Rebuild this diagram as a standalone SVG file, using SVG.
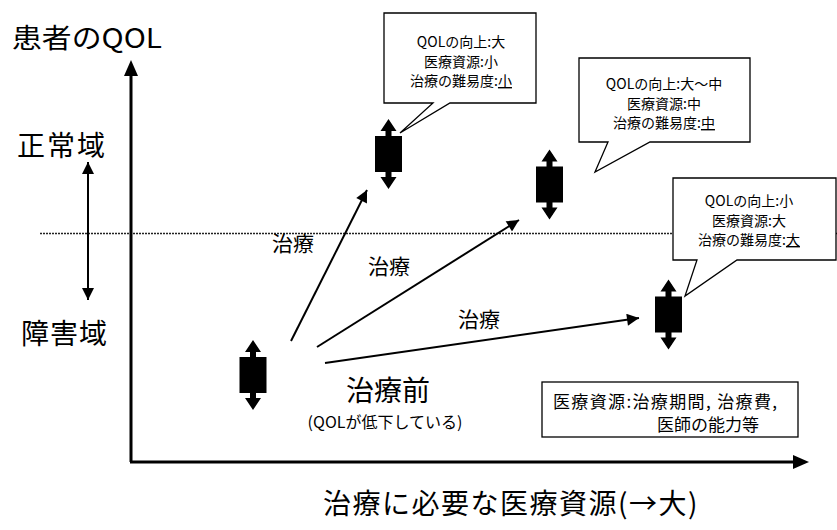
<svg xmlns="http://www.w3.org/2000/svg" width="837" height="530" viewBox="0 0 837 530">
<defs>
<style>
text{font-family:"Noto Sans CJK JP","Noto Sans",sans-serif;fill:#000}
.lbl{font-size:21px}
.co{font-size:14px;text-anchor:middle}
.box{fill:#fff;stroke:#000;stroke-width:1.3}
.conn{stroke:#000;stroke-width:2;fill:none}
</style>
<marker id="ahs" viewBox="0 0 10 10" refX="10" refY="5" markerWidth="7" markerHeight="6" markerUnits="strokeWidth" orient="auto-start-reverse">
<path d="M0,0 L10,5 L0,10 Z" fill="#000"/>
</marker>
<g id="mk">
<rect x="-13.5" y="-18" width="27" height="36" fill="#000"/>
<rect x="-3" y="-30" width="6" height="60" fill="#000"/>
<path d="M-8,-23 L0,-35 L8,-23 Z M-8,23 L0,35 L8,23 Z" fill="#000"/>
</g>
</defs>
<rect width="837" height="530" fill="#fff"/>

<g id="axes">
<line x1="40" y1="233.5" x2="837" y2="233.5" stroke="#222" stroke-width="1.5" stroke-dasharray="2 1"/>
<path d="M131,462 V74" stroke="#000" stroke-width="3" fill="none"/>
<path d="M124,76 L131,60 L138,76 Z" fill="#000"/>
<path d="M130,462 H795" stroke="#000" stroke-width="3" fill="none"/>
<path d="M793,455 L809,462 L793,469 Z" fill="#000"/>
<line x1="88" y1="162" x2="88" y2="300" class="conn" marker-start="url(#ahs)" marker-end="url(#ahs)"/>
</g>

<g id="axis-labels">
<text x="12" y="48" style="font-size:27px" textLength="150" lengthAdjust="spacingAndGlyphs">患者のQOL</text>
<text x="17" y="156" style="font-size:28px" textLength="88">正常域</text>
<text x="21" y="344" style="font-size:28px" textLength="86">障害域</text>
<text x="323" y="514" style="font-size:28px;letter-spacing:1.5px">治療に必要な医療資源(→大)</text>
</g>

<g id="connectors">
<line x1="291" y1="341" x2="367" y2="190" class="conn" marker-end="url(#ahs)"/>
<line x1="317" y1="347" x2="519" y2="220" class="conn" marker-end="url(#ahs)"/>
<line x1="325" y1="363" x2="639" y2="318" class="conn" marker-end="url(#ahs)"/>
<text class="lbl" x="272" y="251">治療</text>
<text class="lbl" x="368" y="274">治療</text>
<text class="lbl" x="458" y="327">治療</text>
</g>

<g id="before">
<use href="#mk" x="253" y="375"/>
<text x="388" y="401" text-anchor="middle" style="font-size:28px">治療前</text>
<text x="385" y="428" text-anchor="middle" style="font-size:16px">(QOLが低下している)</text>
</g>

<g id="after1">
<use href="#mk" x="388.5" y="154"/>
</g>
<g id="after2">
<use href="#mk" x="549.5" y="184.5"/>
</g>
<g id="after3">
<use href="#mk" x="668.5" y="314.5"/>
</g>

<g id="callout1">
<path class="box" d="M384,13 H536 V103 H450 L400,133 L433,103 H384 Z"/>
<text class="co" x="461" y="47">QOLの向上:大</text>
<text class="co" x="461" y="67">医療資源:小</text>
<text class="co" x="461" y="86">治療の難易度:<tspan text-decoration="underline">小</tspan></text>
</g>

<g id="callout2">
<path class="box" d="M579,58 H750 V142 H650 L595,172 L608,142 H579 Z"/>
<text class="co" x="664" y="89">QOLの向上:大～中</text>
<text class="co" x="664" y="109">医療資源:中</text>
<text class="co" x="664" y="128">治療の難易度:<tspan text-decoration="underline">中</tspan></text>
</g>

<g id="callout3">
<path class="box" d="M673,178 H836 V260 H737 L685,296 L697,260 H673 Z"/>
<text class="co" x="749" y="206">QOLの向上:小</text>
<text class="co" x="749" y="226">医療資源:大</text>
<text class="co" x="749" y="245">治療の難易度:<tspan text-decoration="underline">大</tspan></text>
</g>

<g id="legend">
<rect class="box" x="542" y="382" width="256" height="55"/>
<text x="553" y="408" style="font-size:17px" textLength="224">医療資源:治療期間, 治療費,</text>
<text x="657" y="431" style="font-size:17px">医師の能力等</text>
</g>
</svg>
